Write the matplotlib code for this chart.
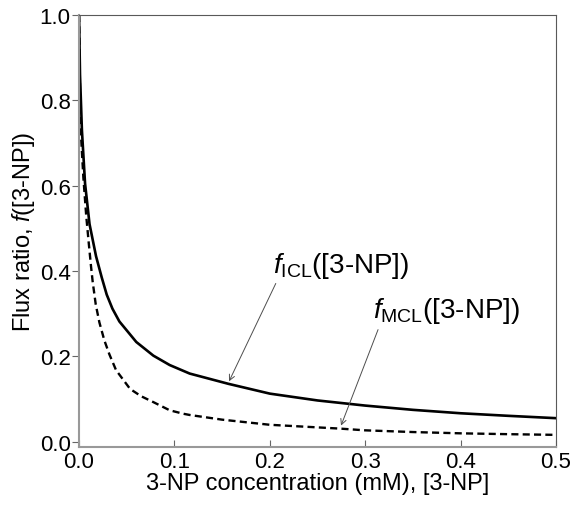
import matplotlib
matplotlib.use("Agg")
import matplotlib.pyplot as plt

plt.rcParams['font.family'] = ['Liberation Sans', 'DejaVu Sans']
plt.rcParams['mathtext.fontset'] = 'custom'
plt.rcParams['mathtext.rm'] = 'Liberation Sans'
plt.rcParams['mathtext.it'] = 'Liberation Sans:italic'

# values
x_icl = [0, 0.001, 0.003, 0.0063, 0.011, 0.0178, 0.0238, 0.029, 0.035, 0.0423,
         0.06, 0.0779, 0.095, 0.116, 0.1565, 0.2, 0.25, 0.3, 0.35, 0.4, 0.45, 0.5]
f_icl = [1.0, 0.86, 0.73, 0.605, 0.51, 0.435, 0.385, 0.345, 0.312, 0.282,
         0.234, 0.202, 0.180, 0.160, 0.136, 0.113, 0.097, 0.085, 0.075, 0.067, 0.061, 0.0555]

x_mcl = [0, 0.0008, 0.002, 0.0045, 0.0075, 0.0102, 0.0126, 0.0143, 0.0175, 0.0213,
         0.0265, 0.0318, 0.0388, 0.0535, 0.065, 0.078, 0.095, 0.109, 0.116, 0.15,
         0.2, 0.274, 0.3, 0.35, 0.4, 0.45, 0.5]
f_mcl = [1.0, 0.85, 0.72, 0.62, 0.53, 0.465, 0.41, 0.375, 0.322, 0.28,
         0.238, 0.205, 0.168, 0.124, 0.107, 0.093, 0.074, 0.066, 0.063, 0.052,
         0.040, 0.031, 0.027, 0.023, 0.020, 0.018, 0.0164]

xticks = [0.0, 0.1, 0.2, 0.3, 0.4, 0.5]
yticks = [0.0, 0.2, 0.4, 0.6, 0.8, 1.0]

fig = plt.figure(figsize=(5.77, 5.10), dpi=100)
ax = fig.add_axes([0.137, 0.1216, 0.8266, 0.847])

ax.plot(x_icl, f_icl, color='black', lw=1.9)
ax.plot(x_mcl, f_mcl, color='black', lw=1.7, linestyle=(0, (3, 1.8)))

ax.set_xlim(0, 0.5)
ax.set_ylim(-0.012, 1.0)
ax.set_xticks(xticks)
ax.set_yticks(yticks)
ax.set_xticklabels(['%.1f' % v for v in xticks])
ax.set_yticklabels(['%.1f' % v for v in yticks])
ax.tick_params(axis='x', direction='in', length=5, labelsize=16, pad=3, color='0.4')
ax.tick_params(axis='y', direction='out', length=5, labelsize=16, pad=1, color='0.4')

for s in ['left', 'bottom']:
    ax.spines[s].set_color('0.6')
    ax.spines[s].set_linewidth(1.5)
for s in ['top', 'right']:
    ax.spines[s].set_color('0.35')
    ax.spines[s].set_linewidth(0.8)

ax.set_xlabel('3-NP concentration (mM), [3-NP]', fontsize=17, labelpad=0)
ax.set_ylabel('Flux ratio, $f$([3-NP])', fontsize=17, labelpad=2)

# labels with arrows
ax.text(0.2034, 0.398, r'$f_{\mathrm{ICL}}$([3-NP])', fontsize=20, ha='left', va='baseline')
ax.annotate('', xy=(0.156, 0.136), xytext=(0.2075, 0.377),
            arrowprops=dict(arrowstyle='->', color='0.3', lw=0.7))
ax.text(0.308, 0.293, r'$f_{\mathrm{MCL}}$([3-NP])', fontsize=20, ha='left', va='baseline')
ax.annotate('', xy=(0.2736, 0.032), xytext=(0.3145, 0.269),
            arrowprops=dict(arrowstyle='->', color='0.3', lw=0.7))

fig.savefig('out.png', dpi=100)
